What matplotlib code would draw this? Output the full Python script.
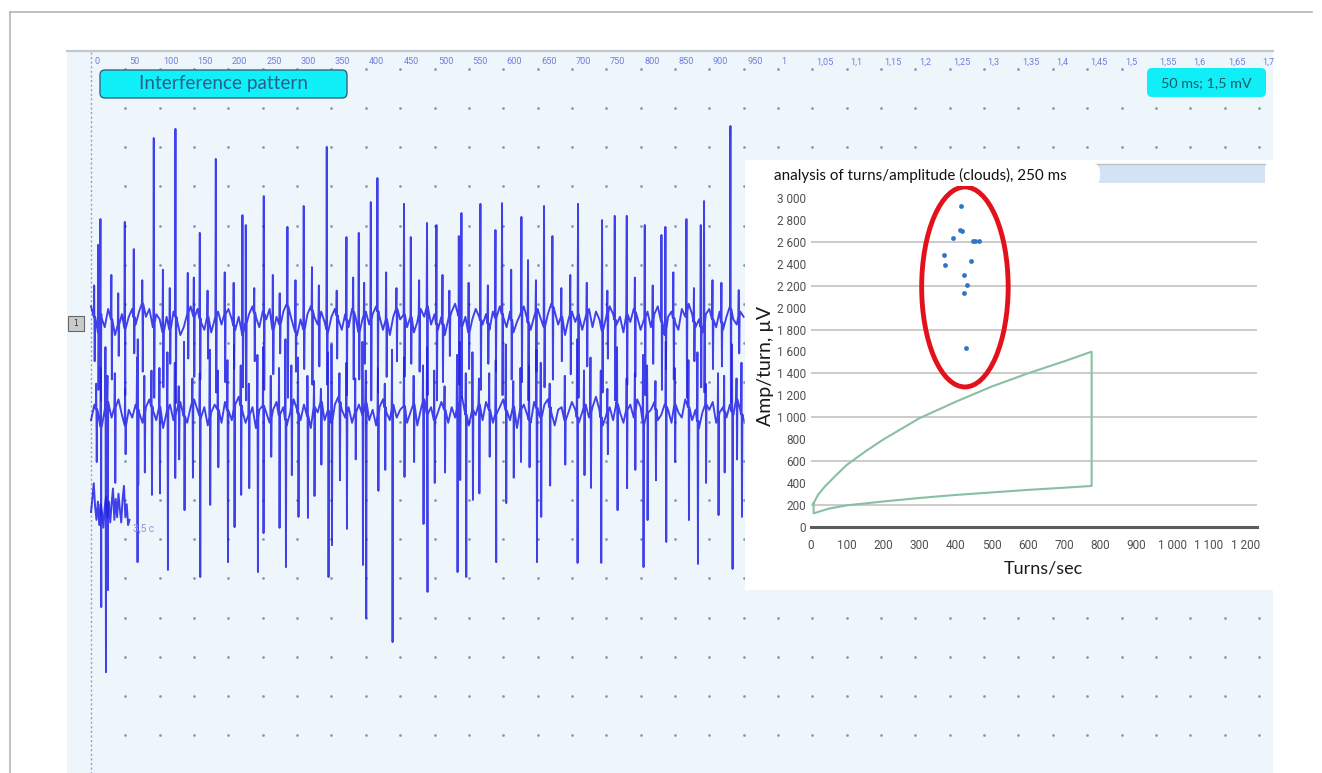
import numpy as np
import matplotlib
matplotlib.use('Agg')
import matplotlib.pyplot as plt
from matplotlib.patches import Rectangle, FancyBboxPatch, Ellipse
from matplotlib.lines import Line2D
from matplotlib.transforms import IdentityTransform
from matplotlib import font_manager

# ---------------- data ----------------
# top time-scale labels (ms, then s)
time_labels = ['0', '50', '100', '150', '200', '250', '300', '350', '400', '450', '500',
               '550', '600', '650', '700', '750', '800', '850', '900', '950', '1', '1,05',
               '1,1', '1,15', '1,2', '1,25', '1,3', '1,35', '1,4', '1,45', '1,5', '1,55',
               '1,6', '1,65', '1,7']

# baseline (mV, relative to trace level) sampled every 5 ms
base1 = [0.6, 0.2, -0.4, 0.3, -0.2, 0.5, 0.1, -0.5, -0.1, 0.3,
         -0.3, 0.2, 0.5, -0.1, 0.4, 0.7, 0.2, 0.5, -0.2, 0.3,
         0.1, -0.4, 0.2, -0.3, 0.4, 0.1, -0.5, -0.2, 0.3, 0.6,
         0.2, 0.5, 0.0, -0.3, 0.2, -0.4, 0.1, 0.4, -0.1, 0.3,
         0.5, 0.1, -0.3, 0.2, -0.5, -0.1, 0.3, 0.6, 0.2, -0.2,
         0.4, 0.1, 0.5, -0.3, 0.2, -0.1, 0.4, 0.7, 0.3, -0.2,
         -0.5, 0.1, -0.3, 0.3, 0.6, 0.2, -0.1, 0.4, 0.0, -0.4,
         0.2, 0.5, 0.1, -0.3, 0.3, -0.2, 0.5, 0.2, -0.4, 0.1,
         0.4, -0.1, 0.3, 0.6, 0.2, -0.3, 0.1, -0.5, 0.2, 0.5,
         0.1, 0.4, -0.2, 0.3, -0.4, 0.0, 0.5, 0.2, 0.6, -0.1,
         0.3, -0.3, 0.2, -0.5, 0.1, 0.4, 0.7, 0.3, -0.2, 0.2,
         -0.4, 0.1, 0.5, 0.2, -0.1, 0.3, -0.3, 0.4, 0.1, 0.6,
         0.2, -0.2, 0.4, -0.4, 0.0, 0.3, 0.6, 0.1, -0.3, 0.2,
         0.5, 0.1, -0.2, 0.3, 0.7, 0.4, -0.1, 0.2, -0.5, 0.1,
         0.4, 0.0, 0.3, -0.3, 0.2, 0.5, -0.2, 0.4, 0.1, -0.4,
         0.2, 0.6, 0.3, -0.1, 0.2, -0.4, 0.3, 0.0, 0.5, 0.2,
         -0.3, 0.1, 0.4, -0.2, 0.3, 0.6, 0.1, -0.5, 0.2, 0.4,
         0.0, -0.3, 0.5, 0.2, 0.7, 0.3, -0.2, 0.1, -0.4, 0.3,
         0.5, 0.1, -0.2, 0.4, -0.3, 0.2, 0.6, 0.1, -0.1, 0.4,
         0.2]
base2 = [-0.2, 0.4, 0.1, -0.5, 0.2, 0.5, -0.1, 0.3, 0.6, 0.0,
         -0.4, 0.2, -0.1, 0.4, 0.1, -0.3, 0.3, 0.6, 0.2, -0.2,
         0.3, -0.5, 0.1, 0.4, -0.2, 0.2, 0.5, 0.0, -0.3, 0.3,
         0.6, 0.2, -0.1, 0.3, -0.4, 0.1, 0.4, 0.2, -0.3, 0.5,
         0.1, -0.2, 0.4, 0.7, 0.2, -0.3, 0.0, 0.3, -0.5, 0.2,
         0.4, 0.1, -0.3, 0.2, 0.5, -0.1, 0.3, -0.4, 0.1, 0.6,
         0.2, -0.2, 0.4, 0.0, -0.5, 0.3, 0.1, 0.5, -0.2, 0.2,
         -0.3, 0.4, 0.7, 0.2, -0.1, 0.3, -0.3, 0.1, 0.4, 0.0,
         0.5, -0.2, 0.2, -0.4, 0.3, 0.6, 0.1, -0.2, 0.4, -0.1,
         0.2, 0.5, -0.3, 0.1, 0.4, -0.4, 0.2, 0.6, 0.0, 0.3,
         -0.2, 0.1, 0.5, 0.2, -0.3, 0.3, -0.1, 0.4, 0.7, 0.1,
         -0.4, 0.2, 0.0, 0.4, -0.2, 0.5, 0.2, -0.3, 0.1, 0.3,
         0.6, 0.1, -0.2, 0.3, -0.5, 0.2, 0.4, 0.0, -0.3, 0.5,
         0.2, -0.1, 0.4, 0.6, 0.1, -0.4, 0.2, 0.3, -0.2, 0.1,
         0.5, 0.2, -0.3, 0.1, 0.4, -0.1, 0.3, 0.7, 0.2, -0.4,
         0.0, 0.3, -0.2, 0.5, 0.1, -0.3, 0.2, 0.4, -0.1, 0.6,
         0.3, -0.4, 0.1, 0.2, 0.5, -0.2, 0.0, 0.4, 0.2, -0.3,
         0.4, 0.1, -0.1, 0.6, 0.3, -0.2, 0.2, -0.5, 0.1, 0.4,
         0.2, 0.5, -0.3, 0.1, 0.3, -0.1, 0.4, 0.0, 0.6, 0.2,
         -0.2]

# trace 1 main spikes: time (ms), positive peak (mV), negative peak (mV)
spk1_t = [10.6, 14.1, 49.5, 62.6, 91.7, 123.3, 141.2, 158.7, 182.0, 220.8, 225.6, 251.8,
          286.3, 310.0, 343.5, 372.2, 390.1, 407.6, 417.3, 456.0, 465.8, 489.5, 503.2,
          535.7, 539.6, 567.2, 589.1, 598.7, 626.9, 636.5, 659.8, 672.0, 709.3, 744.3,
          762.7, 780.2, 806.4, 830.7, 836.5, 867.1, 887.9, 892.7, 931.1, 943.2]
spk1_up = [2.95, 3.94, 3.83, 2.79, 7.04, 7.39, 1.88, 3.41, 6.24, 4.09, 3.71, 4.82,
           3.64, 4.44, 6.70, 3.25, 3.41, 4.59, 5.51, 4.52, 3.25, 3.79, 3.71,
           3.29, 4.17, 4.52, 3.52, 4.55, 4.02, 2.37, 4.44, 3.29, 4.52, 3.90,
           4.06, 4.06, 3.71, 3.33, 3.64, 3.94, 3.71, 4.63, 7.50, 1.22]
spk1_dn = [-2.6, -3.0, -2.8, -1.2, -2.9, -3.1, -1.4, -2.2, -2.7, -2.5, -3.0, -2.6,
           -2.9, -1.8, -2.4, -2.8, -2.2, -3.0, -2.7, -2.1, -1.6, -2.8, -3.0,
           -2.4, -2.9, -2.6, -1.9, -2.8, -2.3, -3.0, -2.5, -2.2, -2.9, -2.7,
           -3.0, -2.4, -2.8, -2.6, -1.8, -2.9, -2.5, -2.7, -3.1, -1.2]
# trace 1 smaller turns
min1_t = [5, 30, 40, 75, 105, 115, 150, 170, 195, 208, 238, 265, 275, 298, 322, 332, 358,
          382, 398, 430, 445, 478, 512, 522, 550, 578, 612, 648, 685, 698, 722, 752, 792,
          818, 848, 878, 905, 918]
min1_up = [1.4, 1.8, 1.1, 1.6, 2.0, 1.3, 1.7, 1.2, 1.9, 1.5, 1.3, 1.8, 1.1, 1.6, 2.1, 1.4,
           1.2, 1.7, 1.5, 1.9, 1.3, 1.6, 1.8, 1.2, 1.5, 1.4, 2.0, 1.6, 1.3, 1.8, 1.5, 1.2,
           1.7, 1.4, 1.9, 1.3, 1.6, 1.5]
min1_dn = [-1.5, -2.2, -1.3, -1.9, -2.5, -1.6, -2.1, -1.4, -2.3, -1.8, -1.5, -2.0, -1.2,
           -1.9, -2.4, -1.7, -1.4, -2.2, -1.6, -2.1, -1.5, -1.9, -2.3, -1.3, -1.8, -1.6,
           -2.2, -1.9, -1.5, -2.0, -1.7, -1.4, -2.1, -1.6, -2.2, -1.5, -1.8, -1.7]

# trace 2 main spikes
spk2_t = [14.6, 21.4, 24.3, 67.4, 68.4, 88.4, 111.6, 122.3, 135.8, 158.7,
          173.2, 199.0, 208.6, 218.3, 242.6, 250.8, 274.1, 283.4, 301.7, 315.4,
          345.4, 350.4, 372.2, 395.5, 400.3, 438.6, 456.0, 483.7, 489.5, 533.2,
          537.1, 545.9, 555.6, 589.5, 604.1, 625.5, 648.8, 655.0, 707.9, 727.4,
          742.4, 766.1, 803.9, 809.8, 837.0, 870.0, 883.1, 913.1, 933.5, 947.2]
spk2_up = [1.8, 2.6, 1.5, 2.2, 2.9, 1.7, 2.4, 2.0, 2.8, 1.6,
           2.5, 2.1, 2.7, 1.9, 2.3, 2.6, 1.8, 2.9, 2.2, 1.5,
           2.4, 2.7, 2.0, 2.8, 1.7, 2.5, 2.2, 1.9, 2.6, 2.3,
           2.8, 1.6, 2.4, 2.1, 2.7, 1.8, 2.5, 2.0, 2.9, 2.2,
           1.7, 2.6, 2.3, 1.9, 2.8, 2.1, 2.4, 1.6, 2.7, 2.0]
spk2_dn = [-7.35, -9.84, -6.70, -5.63, -2.68, -3.06, -5.93, -2.41, -3.64, -6.20,
           -3.44, -5.63, -4.29, -3.06, -6.01, -4.52, -4.32, -5.82, -3.90, -3.94,
           -6.20, -4.98, -4.36, -5.74, -7.77, -8.69, -2.37, -4.17, -6.77, -6.01,
           -2.49, -6.20, -3.25, -5.63, -3.37, -1.80, -5.63, -3.90, -5.66, -2.79,
           -5.66, -3.64, -5.82, -4.02, -4.86, -4.02, -5.70, -3.83, -5.89, -3.90]
# trace 2 smaller turns
min2_t = [8, 35, 50, 78, 100, 128, 148, 185, 230, 262, 292, 325, 335, 362, 385, 418, 428,
          470, 500, 515, 565, 580, 615, 638, 668, 690, 718, 752, 780, 792, 822, 850, 895,
          922, 940]
min2_up = [1.2, 1.6, 1.0, 1.5, 1.8, 1.1, 1.4, 1.7, 1.2, 1.5, 1.9, 1.3, 1.0, 1.6, 1.4, 1.8,
           1.2, 1.5, 1.7, 1.1, 1.4, 1.6, 1.3, 1.9, 1.2, 1.5, 1.7, 1.0, 1.4, 1.6, 1.3, 1.8,
           1.2, 1.5, 1.4]
min2_dn = [-1.8, -2.6, -1.5, -2.2, -3.0, -1.7, -2.4, -2.0, -2.8, -1.6, -2.3, -3.1, -1.9,
           -2.5, -1.7, -2.9, -2.1, -1.8, -2.6, -2.2, -3.0, -1.6, -2.4, -2.0, -2.7, -1.9,
           -2.3, -1.5, -2.8, -2.1, -2.5, -1.8, -2.6, -2.2, -1.7]

# short trace 3 (ms, mV)
tr3_t = [0, 2, 4, 6, 8, 10, 12, 14, 16, 18, 20, 22, 24, 26, 28, 30, 32, 34, 36, 38,
         40, 42, 44, 46, 48, 50, 52, 54, 56]
tr3_v = [0.0, 0.5, 1.1, 0.2, -0.3, 0.4, -0.5, 0.3, 0.0, -0.6, 0.2, 0.6, -0.2, 0.4, -0.4,
         0.3, 0.9, -0.3, 0.5, -0.2, 0.7, 0.1, -0.4, 0.5, 1.0, -0.2, 0.3, -0.5, -0.3]

# inset: turns/amplitude cloud
turns = [415, 412, 418, 394, 448, 454, 466, 369, 372, 443, 424, 433, 424, 429]
amp = [2932, 2710, 2698, 2634, 2609, 2606, 2606, 2481, 2387, 2429, 2296, 2210, 2131, 1635]
# normative area outline
norm_up_x = [8, 20, 40, 70, 100, 150, 200, 300, 400, 500, 600, 700, 776]
norm_up_y = [214, 290, 370, 470, 565, 685, 795, 990, 1140, 1280, 1400, 1510, 1598]
norm_lo_x = [776, 700, 600, 500, 400, 300, 200, 100, 50, 8]
norm_lo_y = [372, 356, 336, 313, 290, 262, 230, 195, 165, 122]
inset_xticks = list(range(0, 1201, 100))
inset_yticks = list(range(0, 3001, 200))
inset_grid = [200, 600, 1000, 1400, 1800, 2200, 2600]

# ---------------- figure ----------------
W, H = 1322, 773
fig = plt.figure(figsize=(W / 100, H / 100), dpi=100)
fig.patch.set_facecolor('white')
PIX = IdentityTransform()

avail = {f.name for f in font_manager.fontManager.ttflist}
NARROW = 'Liberation Sans Narrow' if 'Liberation Sans Narrow' in avail else 'Roboto'
UI = 'Lato' if 'Lato' in avail else 'DejaVu Sans'


def Y(py):
    return H - py


def prect(x0, y0, x1, y1, **kw):
    r = Rectangle((x0, Y(y1)), x1 - x0, y1 - y0, transform=PIX, **kw)
    fig.add_artist(r)
    return r


def pbox(x0, y0, x1, y1, rad, **kw):
    r = FancyBboxPatch((x0, Y(y1)), x1 - x0, y1 - y0,
                       boxstyle=f"round,pad=0,rounding_size={rad}", transform=PIX, **kw)
    fig.add_artist(r)
    return r


def pline(xs, ys, **kw):
    l = Line2D(xs, [Y(v) for v in ys], transform=PIX, **kw)
    fig.add_artist(l)


def ptext(x, y, s, **kw):
    fig.text(x, Y(y), s, transform=PIX, **kw)


# outer frame + panel
pline([10, 1312], [12, 12], color='#b5b5b5', lw=1.2, zorder=-2)
pline([10, 10], [12, 773], color='#b5b5b5', lw=1.2, zorder=-2)
prect(67, 50, 1273, 773, facecolor='#eef6fc', edgecolor='none', zorder=-1)
pline([67, 1273], [50.5, 50.5], color='#c3c8cc', lw=1.6, zorder=-1)

# main signal axes (ms / mV)
MS_PX = 50 / 34.35
MV_PX = 1.5 / 39.2
ax = fig.add_axes([0, 0, 1, 1])
ax.set_axis_off()
ax.set_xlim((0 - 91) * MS_PX, (W - 91) * MS_PX)
ax.set_ylim((304 - H) * MV_PX, (304 - 0) * MV_PX)

# dotted grid
gt = np.arange(50, 1701, 50)
gv = 9 - 1.5 * np.arange(19)
GT, GV = np.meshgrid(gt, gv)
ax.scatter(GT.ravel(), GV.ravel(), s=3.8, color='#7b9aab', lw=0, zorder=1)
ax.plot([0, 0], [(304 - 52) * MV_PX, (304 - H) * MV_PX], color='#8fa2c8', lw=1.0,
        ls=(0, (1.5, 1.8)), zorder=1)

for i, lab in enumerate(time_labels):
    ax.text(i * 50 + 5, (304 - 62) * MV_PX, lab, fontsize=6.6, color='#6f7fd8',
            ha='left', va='center', family=NARROW, zorder=1)


def build(bt, bv, spikes):
    pts = list(zip(bt, bv))
    for st, su, sd in spikes:
        for t, u, d in zip(st, su, sd):
            b = float(np.interp(t, bt, bv))
            pts += [(t - 1.0, b), (t - 0.35, u), (t + 0.35, d), (t + 1.0, b)]
    pts.sort()
    a = np.array(pts)
    return a[:, 0], a[:, 1]


off1 = (304 - 322) * MV_PX
off2 = (304 - 415) * MV_PX
off3 = (304 - 512) * MV_PX
bt1 = np.arange(len(base1)) * 5.0
bt2 = np.arange(len(base2)) * 5.0
x1, y1 = build(bt1, base1, [(spk1_t, spk1_up, spk1_dn), (min1_t, min1_up, min1_dn)])
x2, y2 = build(bt2, base2, [(spk2_t, spk2_up, spk2_dn), (min2_t, min2_up, min2_dn)])
tc = '#2020e6'
ax.plot(x2, y2 + off2, color=tc, lw=1.35, alpha=0.85, zorder=2)
ax.plot(x1, y1 + off1, color=tc, lw=1.35, alpha=0.85, zorder=2)
ax.plot(tr3_t, np.array(tr3_v) + off3, color=tc, lw=1.4, alpha=0.85, zorder=2)
ax.text((133 - 91) * MS_PX, (304 - 528) * MV_PX, '3,5 c', fontsize=7.2, color='#7f96d8',
        ha='left', va='center', family=NARROW)

# channel marker
prect(68, 316, 84, 331, facecolor='#cacaca', edgecolor='#666666', lw=0.8, zorder=3)
ptext(76, 323.5, '1', fontsize=5.5, ha='center', va='center', color='#333333', zorder=4)

# label boxes
pbox(100, 70, 347, 98, 5, facecolor='#0ff0f9', edgecolor='#3b6282', lw=1.0, zorder=3)
ptext(223.5, 84, 'Interference pattern', fontsize=13.6, color='#2c5c8c', ha='center',
      va='center', family=UI, zorder=4)
pbox(1147, 68, 1266, 97, 5, facecolor='#10eef7', edgecolor='none', zorder=3)
ptext(1206.5, 83, '50 ms; 1,5 mV', fontsize=10.4, color='#1d5868', ha='center',
      va='center', family=UI, zorder=4)

# ---------------- inset ----------------
prect(745, 160, 1275, 590, facecolor='white', edgecolor='none', zorder=1.5)
prect(1095, 165, 1265, 183, facecolor='#d4e3f3', edgecolor='none', zorder=2.6)
pline([1040, 1265], [164, 164], color='#b9c1c9', lw=1.0, zorder=2.6)
pbox(748, 163, 1100, 186, 9, facecolor='white', edgecolor='none', zorder=3)
ptext(774, 175, 'analysis of turns/amplitude (clouds), 250 ms', fontsize=10.9,
      color='#111111', ha='left', va='center', family=UI, zorder=4)

x0p, x1p, y0p, y1p = 810.7, 1256.7, 193.0, 526.7
iax = fig.add_axes([x0p / W, 1 - y1p / H, (x1p - x0p) / W, (y1p - y0p) / H], zorder=2)
iax.set_facecolor('none')
iax.set_xlim(0, 1232)
iax.set_ylim(0, 3047)
for s in ['top', 'right', 'left']:
    iax.spines[s].set_visible(False)
iax.spines['bottom'].set_color('#5c5c5c')
iax.spines['bottom'].set_linewidth(2.2)


def fmt(v):
    return f"{v:,}".replace(',', ' ')


iax.set_xticks(inset_xticks)
iax.set_xticklabels([fmt(v) for v in inset_xticks], family=NARROW, fontsize=8.5,
                    color='#505050')
iax.set_yticks(inset_yticks)
iax.set_yticklabels([fmt(v) for v in inset_yticks], family=NARROW, fontsize=8.5,
                    color='#505050')
iax.tick_params(axis='both', length=0)
iax.tick_params(axis='y', pad=3.5)
iax.tick_params(axis='x', pad=9)
for g in inset_grid:
    iax.axhline(g, color='#cbcbcb', lw=1.4, zorder=0.5)

iax.plot(norm_up_x + norm_lo_x + [norm_up_x[0]],
         norm_up_y + norm_lo_y + [norm_up_y[0]], color='#88c0a2', lw=1.5, zorder=2)
iax.scatter(turns, amp, s=12, color='#2f77c3', lw=0, zorder=3)
iax.add_patch(Ellipse((426, 2189), 239, 1826, fill=False, edgecolor='#e3121a', lw=3.5,
                      clip_on=False, zorder=4))

ptext(765, 366, 'Amp/turn, µV', fontsize=14, rotation=90, ha='center', va='center',
      color='#1a1a1a', family=UI, zorder=4)
ptext(1043, 569, 'Turns/sec', fontsize=13, ha='center', va='center', color='#1a1a1a',
      family=UI, zorder=4)

fig.savefig('out.png', dpi=100, facecolor='white')
